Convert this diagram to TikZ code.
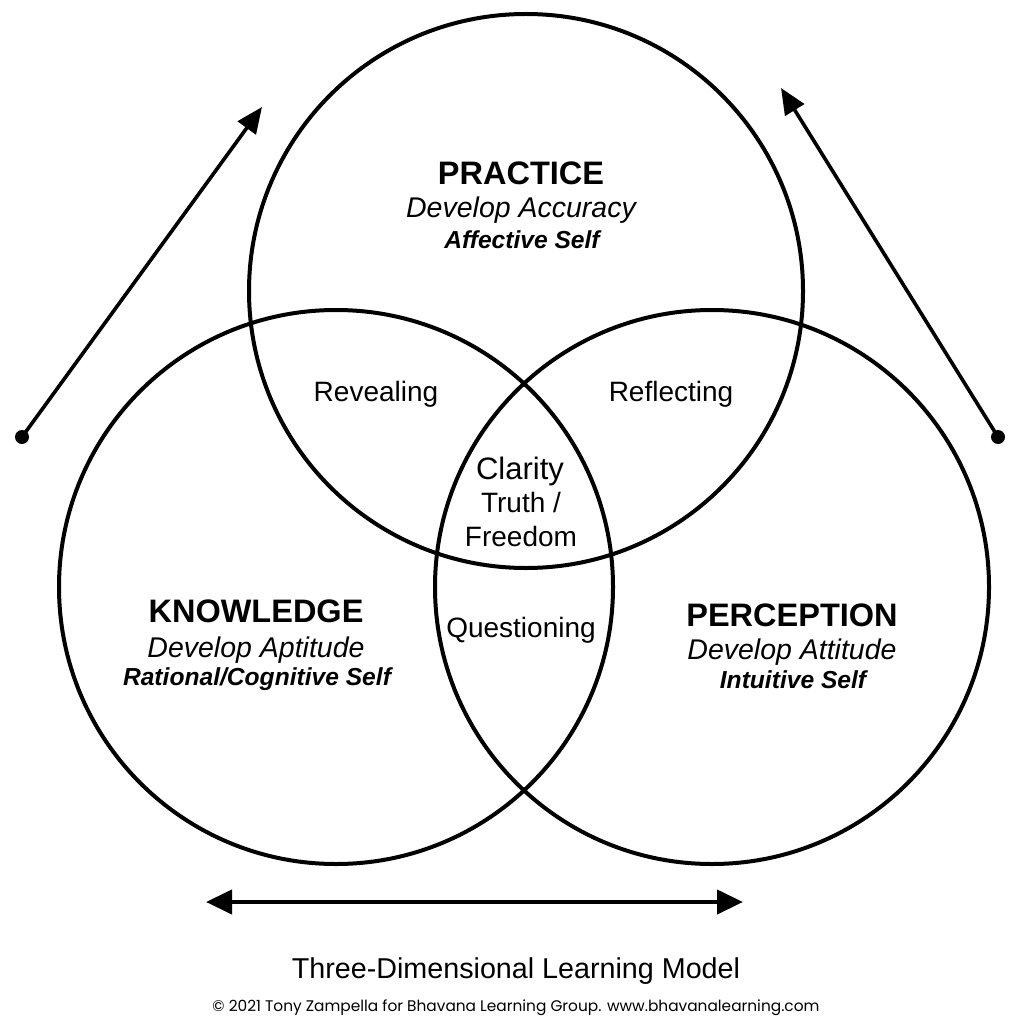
\documentclass[tikz,border=0pt]{standalone}
\usepackage{fontspec}
\setmainfont{Liberation Sans}
\newfontfamily\cpfont{Poppins}
\usetikzlibrary{arrows.meta}
\begin{document}
\begin{tikzpicture}[x=1pt,y=-1pt,
  ring/.style={draw, circle, line width=4pt, minimum size=554pt, inner sep=0pt},
  lbl/.style={anchor=base, inner sep=0pt, font=\fontsize{28}{30}\selectfont},
  head/.style={anchor=base, inner sep=0pt, font=\fontsize{32.5}{34}\selectfont\bfseries},
  sub/.style={anchor=base, inner sep=0pt, font=\fontsize{28.5}{30}\selectfont\itshape},
  self/.style={anchor=base, inner sep=0pt, font=\fontsize{24.6}{26}\selectfont\bfseries\itshape},
  arr/.style={line width=3.6pt, -{Triangle[length=26pt,width=22pt]}},
  dot/.style={fill=black, circle, inner sep=0pt, minimum size=14pt},
]
\useasboundingbox[fill=white] (0,0) rectangle (1022,1024);
% circles
\node[ring] (cprac) at (526,291) {};
\node[ring] (cknow) at (336,587) {};
\node[ring] (cperc) at (712,587) {};
% side arrows
\node[dot] (ldot) at (22,437) {};
\coordinate (ltip) at (262,107);
\node[dot] (rdot) at (998,437) {};
\coordinate (rtip) at (781,88);
\draw[arr] (ldot.center) -- (ltip);
\draw[arr] (rdot.center) -- (rtip);
% bottom arrow
\coordinate (bl) at (206,902);
\coordinate (br) at (743,902);
\draw[line width=4.2pt, {Triangle[length=26pt,width=24pt]}-{Triangle[length=26pt,width=24pt]}] (bl) -- (br);
% practice
\node[head] (pt) at (521,185) {PRACTICE};
\node[sub] (ps) at (521,218) {Develop Accuracy};
\node[self] (pself) at (522,248) {Affective Self};
% knowledge
\node[head] (kt) at (256,622) {KNOWLEDGE};
\node[sub] (ks) at (256,657) {Develop Aptitude};
\node[self] (kself) at (257,685) {Rational/Cognitive Self};
% perception
\node[head] (et) at (792,626) {PERCEPTION};
\node[sub] (es) at (792,659) {Develop Attitude};
\node[self] (eself) at (793,688) {Intuitive Self};
% overlaps
\node[lbl] (rev) at (376,401) {Revealing};
\node[lbl] (ref) at (671,401) {Reflecting};
\node[lbl] (que) at (521,637) {Questioning};
\node[lbl, font=\fontsize{31}{33}\selectfont] (cla) at (520,479) {Clarity};
\node[lbl] (tru) at (521,512) {Truth /};
\node[lbl] (fre) at (521,546) {Freedom};
% captions
\node[lbl, font=\fontsize{28.7}{30}\selectfont] (title) at (516,978) {Three-Dimensional Learning Model};
\node[anchor=base, inner sep=0pt] (copy) at (516,1011) {\resizebox{607pt}{!}{\cpfont\fontsize{18}{20}\selectfont © 2021 Tony Zampella for Bhavana Learning Group. www.bhavanalearning.com}};
\end{tikzpicture}
\end{document}
